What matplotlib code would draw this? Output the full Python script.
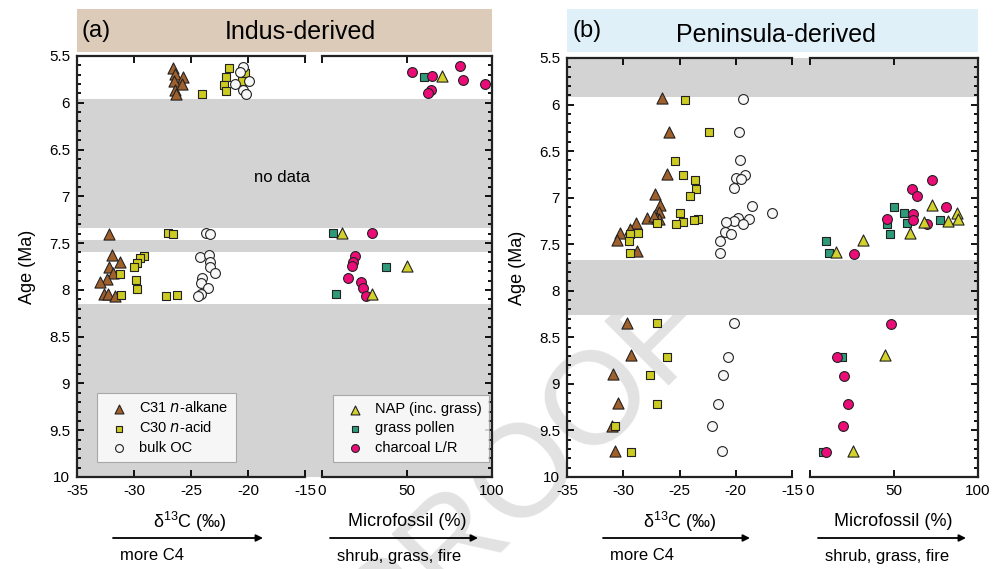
import matplotlib
matplotlib.use("Agg")
import matplotlib.pyplot as plt
from matplotlib.ticker import MultipleLocator, FormatStrFormatter
from matplotlib.patches import Rectangle, FancyArrowPatch

plt.rcParams['font.family'] = ['Liberation Sans Narrow', 'Liberation Sans', 'DejaVu Sans']
plt.rcParams['axes.unicode_minus'] = False
plt.rcParams['mathtext.fontset'] = 'custom'
plt.rcParams['mathtext.rm'] = 'Liberation Sans'

W, H = 1004, 569

# ---- (a) Indus-derived ----
a_alk_d13c = [-26.6, -26.4, -25.7, -26.5, -25.8, -26.4, -26.3, -32.2, -31.9, -31.2, -32.2, -31.8, -32.4, -33.0, -32.6, -32.3, -31.7]
a_alk_age = [5.63, 5.69, 5.72, 5.77, 5.80, 5.86, 5.91, 7.40, 7.63, 7.70, 7.76, 7.82, 7.88, 7.92, 8.04, 8.04, 8.06]
a_acid_d13c = [-21.7, -21.9, -22.1, -21.9, -20.3, -20.5, -24.0, -27.0, -26.6, -29.1, -29.5, -29.7, -30.0, -31.2, -29.8, -29.7, -31.1, -27.2, -26.2]
a_acid_age = [5.63, 5.72, 5.81, 5.87, 5.68, 5.77, 5.91, 7.39, 7.40, 7.64, 7.66, 7.71, 7.76, 7.83, 7.89, 7.99, 8.05, 8.07, 8.05]
a_bulk_d13c = [-20.4, -20.7, -21.1, -19.9, -20.4, -20.2, -23.7, -23.3, -24.2, -23.4, -23.3, -23.3, -22.9, -24.0, -24.1, -23.5, -24.1, -24.4]
a_bulk_age = [5.62, 5.67, 5.80, 5.77, 5.86, 5.91, 7.39, 7.40, 7.65, 7.63, 7.70, 7.76, 7.82, 7.87, 7.93, 7.98, 8.04, 8.06]
a_nap_pct = [70.4, 11.6, 49.8, 29.6]
a_nap_age = [5.71, 7.39, 7.75, 8.04]
a_grass_pct = [60.2, 6.3, 37.6, 8.0]
a_grass_age = [5.72, 7.39, 7.76, 8.04]
a_char_pct = [52.7, 64.5, 81.2, 83.1, 95.9, 64.1, 62.2, 29.6, 19.4, 18.0, 17.5, 15.1, 22.9, 24.3, 25.7]
a_char_age = [5.67, 5.71, 5.61, 5.76, 5.80, 5.86, 5.90, 7.39, 7.64, 7.70, 7.75, 7.87, 7.92, 7.98, 8.06]
a_gaps = [(5.96, 7.34), (7.47, 7.60), (8.15, 10.0)]

# ---- (b) Peninsula-derived ----
b_alk_d13c = [-26.6, -25.9, -26.1, -27.2, -26.7, -26.8, -27.0, -27.9, -28.9, -30.3, -30.6, -29.4, -28.8, -26.8, -27.3,
              -29.7, -29.3, -30.9, -30.5, -31.0, -30.7]
b_alk_age = [5.93, 6.29, 6.75, 6.96, 7.08, 7.15, 7.22, 7.22, 7.27, 7.38, 7.46, 7.34, 7.57, 7.23, 7.20,
             8.35, 8.69, 8.89, 9.21, 9.45, 9.72]
b_acid_d13c = [-24.5, -22.4, -25.4, -24.7, -23.6, -23.5, -24.1, -25.0, -23.4, -23.7, -24.7, -25.3, -27.0, -28.7, -29.4,
               -29.5, -29.4, -27.0, -26.1, -27.6, -27.0, -30.7, -29.3]
b_acid_age = [5.95, 6.30, 6.61, 6.76, 6.81, 6.91, 6.98, 7.17, 7.23, 7.24, 7.26, 7.28, 7.27, 7.38, 7.39,
              7.47, 7.59, 8.35, 8.71, 8.90, 9.22, 9.45, 9.73]
b_bulk_d13c = [-19.4, -19.7, -19.6, -19.2, -20.0, -19.5, -20.2, -18.6, -16.8, -19.8, -18.8, -20.2, -20.9, -19.4, -21.0,
               -20.4, -21.4, -21.4, -20.2, -20.7, -21.1, -21.6, -22.1, -21.2]
b_bulk_age = [5.94, 6.30, 6.60, 6.76, 6.79, 6.80, 6.90, 7.09, 7.16, 7.22, 7.23, 7.25, 7.26, 7.28, 7.37,
              7.39, 7.47, 7.59, 8.35, 8.71, 8.90, 9.22, 9.45, 9.72]
b_nap_pct = [72.4, 87.3, 88.3, 82.3, 68.0, 59.5, 31.7, 15.3, 44.6, 25.8]
b_nap_age = [7.08, 7.16, 7.23, 7.25, 7.26, 7.38, 7.45, 7.58, 8.69, 9.72]
b_grass_pct = [50.0, 56.0, 57.5, 45.8, 47.6, 77.4, 9.5, 11.3, 18.9, 7.6]
b_grass_age = [7.10, 7.17, 7.27, 7.28, 7.39, 7.24, 7.47, 7.59, 8.71, 9.73]
b_char_pct = [72.4, 60.5, 63.7, 80.8, 61.5, 61.5, 45.6, 69.4, 26.2, 48.0, 16.3, 20.2, 22.4, 19.5, 9.5]
b_char_age = [6.81, 6.91, 6.98, 7.10, 7.18, 7.24, 7.23, 7.28, 7.60, 8.36, 8.71, 8.91, 9.22, 9.45, 9.73]
b_gaps = [(5.5, 5.92), (7.67, 8.26)]

# kolory
c_alk = '#a0602c'
c_acid = '#cdca22'
c_bulk = '#f7f7f7'
c_nap = '#d3d12e'
c_grass = '#2e9a7a'
c_char = '#ec0c78'
c_gray = '#d3d3d3'


def px(x0, y0, x1, y1):
    # piksele -> ułamki figury
    return [x0 / W, 1 - y1 / H, (x1 - x0) / W, (y1 - y0) / H]


fig = plt.figure(figsize=(W / 100, H / 100), dpi=100)


def setup_y(ax):
    ax.set_ylim(10, 5.5)
    ax.yaxis.set_major_locator(MultipleLocator(0.5))
    ax.yaxis.set_minor_locator(MultipleLocator(0.1))
    ax.yaxis.set_major_formatter(FormatStrFormatter('%g'))
    ax.set_facecolor('none')


def panel(xl, xr, ytop, ybot, gaps, alk, acid, bulk, nap, grass, char, head_col, letter, show_legend):
    # xl = (x0, x1) lewej osi, xr = (x0, x1) prawej osi w pikselach
    axL = fig.add_axes(px(xl[0], ytop, xl[1], ybot))
    axR = fig.add_axes(px(xr[0], ytop, xr[1], ybot))
    setup_y(axL)
    setup_y(axR)
    axL.set_xlim(-35, -15)
    axR.set_xlim(0, 100)
    axL.xaxis.set_major_locator(MultipleLocator(5))
    axR.xaxis.set_major_locator(MultipleLocator(50))

    span = (xr[0] - xl[0]) / (xl[1] - xl[0])
    for g0, g1 in gaps:
        axL.axhspan(g0, g1, xmin=0, xmax=span + 0.01, color=c_gray, lw=0, zorder=0, clip_on=False)
        axR.axhspan(g0, g1, color=c_gray, lw=0, zorder=0)

    kw = dict(edgecolor='#222222', linewidths=0.8, zorder=3, clip_on=False)
    axL.scatter(alk[0], alk[1], marker='^', s=64, color=c_alk, label='C31 $n$-alkane', **kw)
    axL.scatter(acid[0], acid[1], marker='s', s=30, color=c_acid, label='C30 $n$-acid', **kw)
    axL.scatter(bulk[0], bulk[1], marker='o', s=50, color=c_bulk, label='bulk OC', **kw)
    axR.scatter(grass[0], grass[1], marker='s', s=30, color=c_grass, label='grass pollen', **kw)
    axR.scatter(char[0], char[1], marker='o', s=50, color=c_char, label='charcoal L/R', **kw)
    axR.scatter(nap[0], nap[1], marker='^', s=64, color=c_nap, label='NAP (inc. grass)', **kw)

    axL.spines['right'].set_visible(False)
    axR.spines['left'].set_visible(False)
    for ax in (axL, axR):
        for sp in ax.spines.values():
            sp.set_linewidth(1.6)
            sp.set_color('#222222')
        ax.tick_params(direction='in', which='both', top=True, labelsize=11, width=1.3, pad=5)
        ax.tick_params(which='major', length=5)
        ax.tick_params(which='minor', length=3)
    axL.tick_params(axis='y', right=False, which='both')
    axR.tick_params(axis='y', left=False, right=True, labelleft=False, which='both')
    axL.set_ylabel('Age (Ma)', fontsize=13, labelpad=9)

    if show_legend:
        hL, lL = axL.get_legend_handles_labels()
        legL = axL.legend(hL, lL, loc='lower left', bbox_to_anchor=(0.088, 0.036), borderaxespad=0,
                          fontsize=10.5, frameon=True, fancybox=False, edgecolor='#999999',
                          handletextpad=0.4, labelspacing=0.35, borderpad=0.5, markerscale=0.8)
        legL.get_frame().set_linewidth(0.8)
        hR, lR = axR.get_legend_handles_labels()
        order = [2, 0, 1]
        legR = axR.legend([hR[i] for i in order], [lR[i] for i in order], loc='lower left',
                          bbox_to_anchor=(0.065, 0.036), borderaxespad=0,
                          fontsize=10.5, frameon=True, fancybox=False, edgecolor='#999999',
                          handletextpad=0.4, labelspacing=0.35, borderpad=0.5, markerscale=0.8)
        legR.get_frame().set_linewidth(0.8)

    # naglowek
    fig.add_artist(Rectangle((xl[0] / W, 1 - 52 / H), (xr[1] - xl[0]) / W, 43 / H,
                             transform=fig.transFigure, color=head_col, lw=0, zorder=0))
    fig.text((xl[0] + 5) / W, 1 - 31 / H, letter, fontsize=17, va='center', ha='left', family='Liberation Sans')
    return axL, axR


axLa, axRa = panel((77, 305), (322, 492), 56, 477, a_gaps,
                   (a_alk_d13c, a_alk_age), (a_acid_d13c, a_acid_age), (a_bulk_d13c, a_bulk_age),
                   (a_nap_pct, a_nap_age), (a_grass_pct, a_grass_age), (a_char_pct, a_char_age),
                   '#dccbb9', '(a)', True)
axLb, axRb = panel((567, 792), (810, 978), 58, 477, b_gaps,
                   (b_alk_d13c, b_alk_age), (b_acid_d13c, b_acid_age), (b_bulk_d13c, b_bulk_age),
                   (b_nap_pct, b_nap_age), (b_grass_pct, b_grass_age), (b_char_pct, b_char_age),
                   '#dff0f9', '(b)', False)

fig.text(300 / W, 1 - 32 / H, 'Indus-derived', fontsize=18, ha='center', va='center', family='Liberation Sans')
fig.text(776 / W, 1 - 35 / H, 'Peninsula-derived', fontsize=18, ha='center', va='center', family='Liberation Sans')
fig.text(282 / W, 1 - 178 / H, 'no data', fontsize=12, ha='center', va='center', family='Liberation Sans')

# opisy osi i strzalki
for cx in (190, 680):
    fig.text(cx / W, 1 - 522 / H, r'δ$\mathrm{^{13}}$C (‰)', fontsize=13, ha='center', va='center')
for cx in (407, 893):
    fig.text(cx / W, 1 - 522 / H, 'Microfossil (%)', fontsize=13, ha='center', va='center')
for x0, x1, lab in [(113, 263, 'more C4'), (330, 478, 'shrub, grass, fire'),
                    (603, 750, 'more C4'), (818, 966, 'shrub, grass, fire')]:
    fig.add_artist(FancyArrowPatch((x0 / W, 1 - 538 / H), (x1 / W, 1 - 538 / H), transform=fig.transFigure,
                                   arrowstyle='-|>,head_length=4,head_width=2', color='black', lw=1.3,
                                   shrinkA=0, shrinkB=0))
    fig.text((x0 + 7) / W, 1 - 556 / H, lab, fontsize=12, ha='left', va='center')

# znak wodny
fig.text(525 / W, 1 - 470 / H, 'PROOF', fontsize=95, color='#e2e2e2', rotation=45,
         ha='center', va='center', zorder=-1, family='Liberation Sans')

fig.savefig('out.png', dpi=100)
